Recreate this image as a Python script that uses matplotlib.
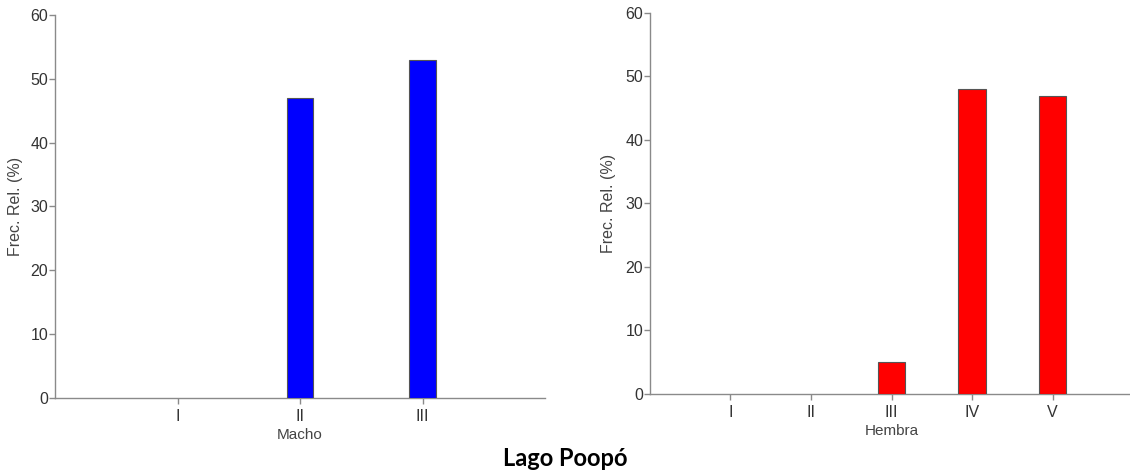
import numpy as np
import matplotlib
matplotlib.use("Agg")
import matplotlib.pyplot as plt

# Data
macho_cats = ["I", "II", "III"]
macho_vals = [0, 47, 53]

hembra_cats = ["I", "II", "III", "IV", "V"]
hembra_vals = [0, 0, 5, 48, 47]

y_ticks = [0, 10, 20, 30, 40, 50, 60]
y_label = "Frec. Rel. (%)"
title = "Lago Poopó"

plt.rcParams["font.family"] = ["Liberation Sans", "DejaVu Sans"]

fig = plt.figure(figsize=(11.3, 4.76), dpi=100)

ax1 = fig.add_axes([0.0487, 0.1639, 0.4336, 0.8046])
ax2 = fig.add_axes([0.5752, 0.1723, 0.4275, 0.8004])


def style_axis(ax, cats, vals, color, xlabel, width, ylab_x):
    x = np.arange(1, len(cats) + 1)
    vals = np.array(vals, dtype=float)
    # empty classes draw no bar
    ax.bar(x[vals > 0], vals[vals > 0], width=width, color=color,
           edgecolor="#555555", linewidth=0.8, zorder=3)
    ax.set_xlim(0, len(cats) + 1)
    ax.set_ylim(0, 60)
    ax.set_xticks(x)
    ax.set_xticklabels(cats)
    ax.set_yticks(y_ticks)
    for s in ["top", "right"]:
        ax.spines[s].set_visible(False)
    for s in ["left", "bottom"]:
        ax.spines[s].set_color("#8a8a8a")
        ax.spines[s].set_linewidth(1.0)
    ax.tick_params(axis="both", colors="#8a8a8a", labelcolor="#333333",
                   labelsize=11.5, length=4, width=1.0)
    ax.tick_params(axis="y", pad=1)
    ax.tick_params(axis="x", pad=4)
    ax.set_xlabel(xlabel, fontsize=11, color="#444444", labelpad=3)
    ax.set_ylabel(y_label, fontsize=11.5, color="#444444")
    ax.yaxis.set_label_coords(ylab_x, 0.5)


style_axis(ax1, macho_cats, macho_vals, "#0000ff", "Macho", 0.22, -0.065)
style_axis(ax2, hembra_cats, hembra_vals, "#ff0000", "Hembra", 0.34, -0.070)

fig.text(0.5, 0.036, title, ha="center", va="center", fontsize=17,
         fontweight="bold", family=["Lato", "DejaVu Sans"])

fig.savefig("out.png", dpi=100)
